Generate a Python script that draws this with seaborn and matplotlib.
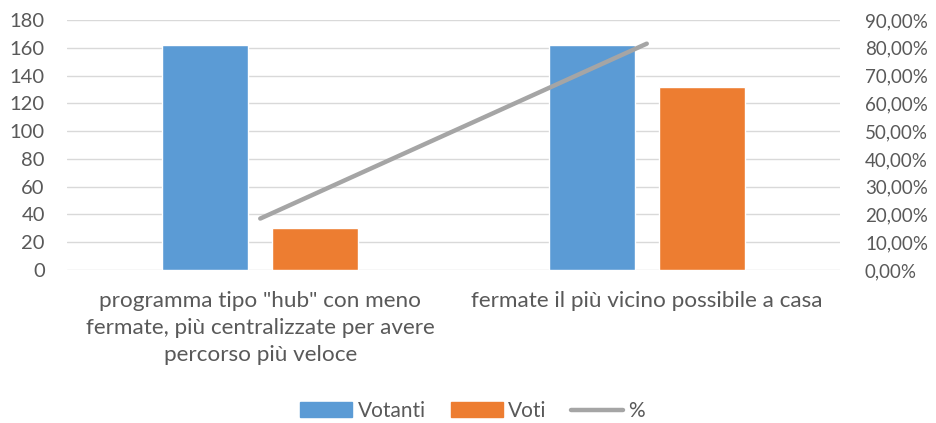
import pandas as pd
import numpy as np
import matplotlib.pyplot as plt
import seaborn as sns
from matplotlib.ticker import FuncFormatter
from matplotlib.lines import Line2D
from matplotlib.patches import Patch

categorie = ['programma tipo "hub" con meno\nfermate, più centralizzate per avere\npercorso più veloce',
             'fermate il più vicino possibile a casa']
votanti = [162, 162]
voti = [30, 132]
percentuali = [30 / 162 * 100, 132 / 162 * 100]

blu = '#5B9BD5'
arancio = '#ED7D31'
grigio = '#A5A5A5'
testo = '#595959'

df = pd.DataFrame({
    'categoria': categorie * 2,
    'serie': ['Votanti'] * 2 + ['Voti'] * 2,
    'valore': votanti + voti,
})

sns.set_style('white')
plt.rcParams['font.family'] = ['Lato', 'DejaVu Sans']

fig = plt.figure(figsize=(9.36, 4.23), dpi=100)
ax = fig.add_axes([67 / 936, 1 - 270 / 423, (840 - 67) / 936, 250 / 423])

sns.barplot(data=df, x='categoria', y='valore', hue='serie', ax=ax,
            palette=[blu, arancio], width=0.57, gap=0.22, legend=False,
            saturation=1)
ax.set_xlim(-0.5, 1.5)
ax.set_ylim(0, 180)
ax.set_yticks(range(0, 181, 20))
ax.set_xlabel('')
ax.set_ylabel('')
ax.grid(axis='y', color='#D9D9D9', linewidth=1)
ax.set_axisbelow(True)
for s in ax.spines.values():
    s.set_visible(False)
ax.tick_params(axis='both', length=0, colors=testo)
ax.tick_params(axis='x', pad=15, labelsize=16.2)
ax.tick_params(axis='y', pad=16, labelsize=14.5)
for lbl in ax.get_xticklabels():
    lbl.set_linespacing(1.45)

ax2 = ax.twinx()
sns.lineplot(x=np.arange(len(categorie)), y=percentuali, ax=ax2, color=grigio,
             linewidth=3.2, solid_capstyle='round')
ax2.set_ylim(0, 90)
ax2.set_yticks(range(0, 91, 10))
ax2.yaxis.set_major_formatter(FuncFormatter(lambda v, p: f'{v:.2f}'.replace('.', ',') + '%'))
ax2.set_xlim(-0.5, 1.5)
for s in ax2.spines.values():
    s.set_visible(False)
ax2.tick_params(axis='y', length=0, colors=testo, labelsize=13.5, pad=18)

handles = [Patch(color=blu), Patch(color=arancio),
           Line2D([0], [0], color=grigio, linewidth=3.2, solid_capstyle='round')]
fig.legend(handles, ['Votanti', 'Voti', '%'], loc='center', bbox_to_anchor=(0.505, 1 - 411 / 423),
           ncol=3, frameon=False, handlelength=2.5, handleheight=0.7, handletextpad=0.25,
           columnspacing=1.2, labelcolor=testo, fontsize=15)

fig.savefig('out.png', dpi=100)
